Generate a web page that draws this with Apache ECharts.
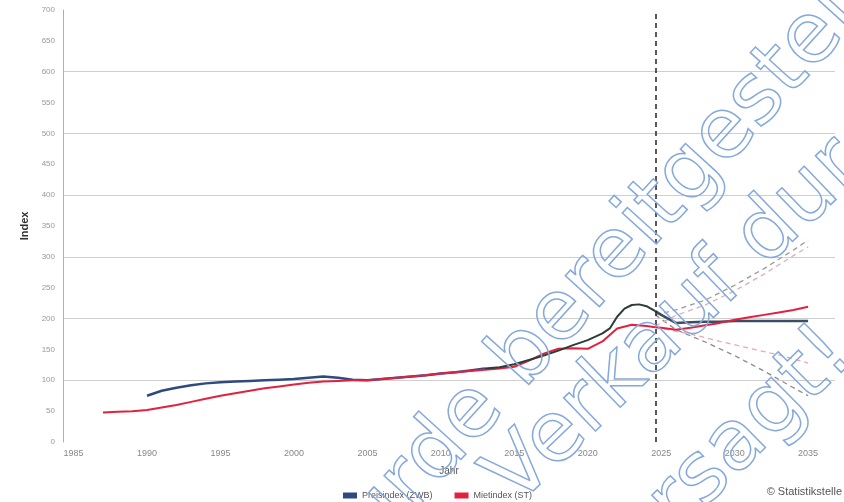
<!DOCTYPE html>
<html><head><meta charset="utf-8">
<script src="https://cdn.jsdelivr.net/npm/echarts@6/dist/echarts.min.js"></script>
<style>html,body{margin:0;padding:0;background:#fff}#c{width:844px;height:502px}</style>
</head><body><div id="c"></div>
<script>
// ---- data ----
const xLabelYears = [1985,1990,1995,2000,2005,2010,2015,2020,2025,2030,2035];
const forecastStart = 2024.6;

// ZWB index, history part 1 (blue)
const zwbYearsA = [1990,1991,1992,1993,1994,1995,1996,1997,1998,1999,2000,2001,2002,2003,2004,2005,2006,2007,2008,2009,2010,2011,2012,2013];
const zwbValsA  = [75,83,88,92,95,97,98,99,100,101,102,104,106,104,101,100,102,104,106,108,111,113,116,119];
// ZWB index, history part 2 (dark)
const zwbYearsB = [2013,2014,2015,2016,2017,2018,2019,2020,2021,2021.5,2022,2022.5,2023,2023.5,2024,2024.6];
const zwbValsB  = [119,121,126,133,140,148,157,165,176,184,203,216,222,223,220,212];
// ZWB index, forecast
const zwbYearsF = [2024.6,2025,2026,2027,2028,2029,2030,2031,2032,2033,2034,2035];
const zwbValsF  = [212,206,193,194,195,195,196,196,196,196,196,196];

// ST index history (red)
const stYears = [1987,1988,1989,1990,1991,1992,1993,1994,1995,1996,1997,1998,1999,2000,2001,2002,2003,2004,2005,2006,2007,2008,2009,2010,2011,2012,2013,2014,2015,2016,2017,2018,2019,2020,2021,2022,2023,2024,2024.6];
const stVals  = [48,49,50,52,56,60,65,70,75,79,83,87,90,93,96,98,99,100,100,102,104,106,108,111,113,115,117,119,122,132,143,151,152,151,163,184,190,188,186];
// ST forecast (red)
const stYearsF = [2024.6,2025,2026,2027,2028,2029,2030,2031,2032,2033,2034,2035];
const stValsF  = [186,185,182,185,189,193,198,202,206,210,214,219];

// scenario lines (dashed)
const upGrayYears = [2024.6,2026,2028,2030,2032,2034,2035];
const upGrayVals  = [206,214,230,254,281,311,327];
const upPinkYears = [2024.6,2026,2028,2030,2032,2034,2035];
const upPinkVals  = [188,205,222,245,272,302,316];
const dnGrayYears = [2024.6,2026,2028,2030,2032,2034,2035];
const dnGrayVals  = [206,182,162,140,115,88,75];
const dnPinkYears = [2024.6,2027,2029,2031,2033,2035];
const dnPinkVals  = [186,175,163,152,141,128];

const legendNames = ['Preisindex (ZWB)','Mietindex (ST)'];

const zip = (xs, ys) => xs.map((x, i) => [x, ys[i]]);

const chart = echarts.init(document.getElementById('c'), null, {renderer:'canvas'});

function line(name, xs, ys, color, width, type, z) {
  return {
    name: name, type: 'line', data: zip(xs, ys), showSymbol: false, symbol: 'none',
    smooth: false, z: z || 2,
    lineStyle: {color: color, width: width, type: type || 'solid'},
    itemStyle: {color: color}
  };
}

const series = [
  line('dnGray', dnGrayYears, dnGrayVals, '#8a8a8a', 1.3, [5,4], 1),
  line('dnPink', dnPinkYears, dnPinkVals, '#f0a4b4', 1.3, [5,4], 1),
  line('upPink', upPinkYears, upPinkVals, '#d9b0b8', 1.3, [5,4], 1),
  line('upGray', upGrayYears, upGrayVals, '#9a9a9a', 1.3, [5,4], 1),
  line(legendNames[1], stYears, stVals, '#e2213f', 2, 'solid', 3),
  line('stF', stYearsF, stValsF, '#e2213f', 2, 'solid', 3),
  line(legendNames[0], zwbYearsA, zwbValsA, '#2e4a7e', 2.5, 'solid', 2),
  line('zwbB', zwbYearsB, zwbValsB, '#2b3d35', 2, 'solid', 4),
  line('zwbF', zwbYearsF, zwbValsF, '#3b4c63', 2.5, 'solid', 2)
];
series[4].markLine = {
  symbol: 'none', silent: true, label: {show: false},
  lineStyle: {color: '#222', type: [5,4], width: 1.5},
  data: [{xAxis: forecastStart}]
};

const wmStyle = (t) => ({text: t, font: '84px "DejaVu Sans"', fill: 'rgba(255,255,255,0)', stroke: '#86a9dc', lineWidth: 1.5, textAlign: 'left', textVerticalAlign: 'bottom'});

chart.setOption({
  animation: false,
  backgroundColor: '#fff',
  grid: {left: 63, right: 9, top: 10, bottom: 60},
  legend: {
    data: [{name: legendNames[0], icon: 'rect'}, {name: legendNames[1], icon: 'rect'}],
    left: 338, top: 486, itemWidth: 14, itemHeight: 6, itemGap: 22,
    textStyle: {fontSize: 9, color: '#555', fontFamily: 'Liberation Sans'}
  },
  xAxis: {
    type: 'value', min: 1984.28, max: 2036.83,
    name: 'Jahr', nameLocation: 'middle', nameGap: 24,
    nameTextStyle: {fontSize: 10, color: '#555', fontFamily: 'Liberation Sans'},
    axisLine: {show: false}, axisTick: {show: false}, splitLine: {show: false},
    axisLabel: {customValues: xLabelYears, formatter: (v) => String(v), fontSize: 9, color: '#888', margin: 7, fontFamily: 'Liberation Sans'}
  },
  yAxis: [
    {
      type: 'value', min: 0, max: 700, interval: 50, position: 'left',
      name: 'Index', nameLocation: 'middle', nameGap: 30, nameRotate: 90,
      nameTextStyle: {fontSize: 11, color: '#333', fontWeight: 'bold', fontFamily: 'Liberation Sans'},
      axisLine: {show: true, lineStyle: {color: '#b0b0b0', width: 1}},
      axisTick: {show: false}, splitLine: {show: false},
      axisLabel: {fontSize: 8, color: '#999', margin: 8, fontFamily: 'Liberation Sans'}
    },
    {
      type: 'value', min: 0, max: 700, interval: 100, position: 'left',
      axisLine: {show: false}, axisTick: {show: false}, axisLabel: {show: false},
      splitLine: {show: true, showMinLine: false, showMaxLine: false, lineStyle: {color: '#cfcfcf', width: 1.2}}
    }
  ],
  series: series,
  graphic: [
    {type: 'text', right: 2, top: 486, style: {text: '© Statistikstelle', font: '11px "Liberation Sans"', fill: '#555'}, z: 10},
    {type: 'text', x: 346, y: 616, rotation: 0.834, style: wmStyle('wurde bereitgestellt'), z: 50, silent: true},
    {type: 'text', x: 530, y: 522, rotation: 0.766, style: wmStyle('Verkauf durch'), z: 50, silent: true},
    {type: 'text', x: 557, y: 682, rotation: 0.78, style: wmStyle('untersagt!'), z: 50, silent: true}
  ]
});
</script>
</body></html>
